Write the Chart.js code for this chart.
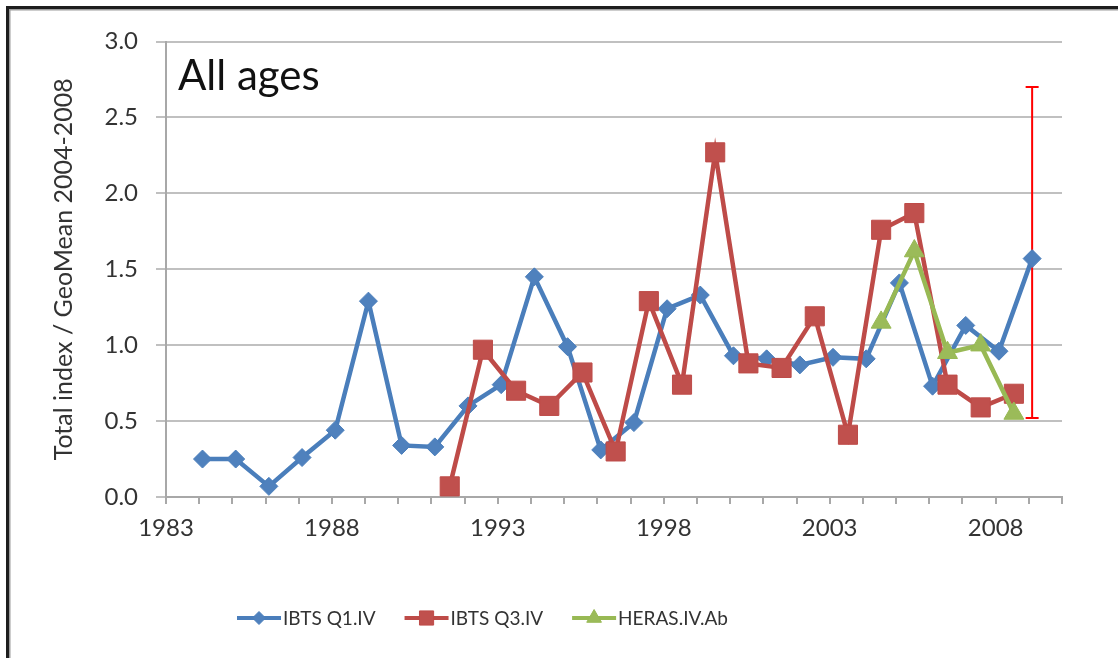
<!DOCTYPE html>
<html>
<head>
<meta charset="utf-8">
<script src="https://cdn.jsdelivr.net/npm/chart.js@4.4.0/dist/chart.umd.min.js"></script>
<style>
  html, body { margin: 0; padding: 0; background: #fff; overflow: hidden; }
  #wrap { position: relative; width: 1118px; height: 658px; }
  canvas { position: absolute; left: 0; top: 0; }
  #frame {
    position: absolute; left: 6px; top: 6px; width: 1200px; height: 700px;
    border-left: 3px solid #1e1e1e; border-top: 3px solid #1e1e1e;
    box-shadow: inset 1.5px 1.5px 0 #9c9c9c; pointer-events: none;
  }
</style>
</head>
<body>
<div id="wrap">
  <canvas id="chart" width="1118" height="658"></canvas>
  <div id="frame"></div>
</div>
<script>
// survey years and index values
const q1Years = [1984, 1985, 1986, 1987, 1988, 1989, 1990, 1991, 1992, 1993, 1994, 1995, 1996,
                 1997, 1998, 1999, 2000, 2001, 2002, 2003, 2004, 2005, 2006, 2007, 2008, 2009];
const q1Values = [0.25, 0.25, 0.07, 0.26, 0.44, 1.29, 0.34, 0.33, 0.60, 0.74, 1.45, 0.99, 0.31,
                  0.49, 1.24, 1.33, 0.93, 0.91, 0.87, 0.92, 0.91, 1.41, 0.73, 1.13, 0.96, 1.57];
const q3Years = [1991, 1992, 1993, 1994, 1995, 1996, 1997, 1998, 1999, 2000, 2001, 2002, 2003,
                 2004, 2005, 2006, 2007, 2008];
const q3Values = [0.07, 0.97, 0.70, 0.60, 0.82, 0.30, 1.29, 0.74, 2.27, 0.88, 0.85, 1.19, 0.41,
                  1.76, 1.87, 0.74, 0.59, 0.68];
const herasYears = [2004, 2005, 2006, 2007, 2008];
const herasValues = [1.15, 1.62, 0.95, 1.00, 0.55];

// timing of the survey inside the year (Q1 ~ Feb, Q3 / HERAS ~ Jul)
const q1Offset = 0.1;
const q3Offset = 0.55;

// range bar at the last Q1 point
const rangeYear = 2009;
const rangeLow = 0.52;
const rangeHigh = 2.70;

const seriesNames = ['IBTS Q1.IV', 'IBTS Q3.IV', 'HERAS.IV.Ab'];
const xTickYears = [1983, 1984, 1985, 1986, 1987, 1988, 1989, 1990, 1991, 1992, 1993, 1994, 1995, 1996,
                    1997, 1998, 1999, 2000, 2001, 2002, 2003, 2004, 2005, 2006, 2007, 2008, 2009, 2010];
const xLabelYears = [1983, 1988, 1993, 1998, 2003, 2008];
const yTicks = [0, 0.5, 1.0, 1.5, 2.0, 2.5, 3.0];
const yTitle = 'Total index / GeoMean 2004-2008';
const panelTitle = 'All ages';

const textColor = '#333333';
const gridColor = '#c0c0c0';
const axisColor = '#a8a8a8';

function points(years, values, offset) {
    return years.map((yr, i) => ({ x: yr + offset, y: values[i] }));
}

// title inside the plot + Excel style legend (line with marker)
const legendMarks = [
    { style: 'rectRot', radius: 6.5 },
    { style: 'rect', radius: 10 },
    { style: 'triangle', radius: 8.5 }
];
const decorPlugin = {
    id: 'decor',
    afterDraw(chart) {
        const ctx = chart.ctx;
        ctx.save();
        ctx.fillStyle = '#111';
        ctx.font = '42px Lato';
        ctx.textBaseline = 'alphabetic';
        ctx.fillText(panelTitle, 178, 90);

        ctx.font = '19px Lato';
        ctx.textBaseline = 'middle';
        let x = 237;
        const y = 618;
        for (let i = 0; i < 3; i++) {
            const ds = chart.data.datasets[i];
            ctx.strokeStyle = ds.borderColor;
            ctx.lineWidth = 4;
            ctx.beginPath();
            ctx.moveTo(x, y);
            ctx.lineTo(x + 44, y);
            ctx.stroke();
            ctx.fillStyle = ds.pointBackgroundColor;
            ctx.strokeStyle = ds.pointBorderColor;
            ctx.lineWidth = 1;
            Chart.helpers.drawPoint(ctx, { pointStyle: legendMarks[i].style, radius: legendMarks[i].radius, rotation: 0, borderWidth: 1 }, x + 22, y);
            ctx.fillStyle = textColor;
            ctx.fillText(seriesNames[i], x + 46, y + 1);
            x += 46 + ctx.measureText(seriesNames[i]).width + 29;
        }
        ctx.restore();
    }
};

new Chart(document.getElementById('chart'), {
    type: 'line',
    data: {
        datasets: [
            {
                label: seriesNames[0],
                data: points(q1Years, q1Values, q1Offset),
                borderColor: '#4a7ebb',
                pointBackgroundColor: '#4f81bd',
                pointBorderColor: '#4a7ebb',
                pointStyle: 'rectRot',
                pointRadius: 9,
                pointBorderWidth: 1,
                borderWidth: 4.5,
                order: 3
            },
            {
                label: seriesNames[1],
                data: points(q3Years, q3Values, q3Offset),
                borderColor: '#be4b48',
                pointBackgroundColor: '#c0504d',
                pointBorderColor: '#be4b48',
                pointStyle: 'rect',
                pointRadius: 13.5,
                pointBorderWidth: 1,
                borderWidth: 4.5,
                order: 2
            },
            {
                label: seriesNames[2],
                data: points(herasYears, herasValues, q3Offset),
                borderColor: '#98b954',
                pointBackgroundColor: '#9bbb59',
                pointBorderColor: '#98b954',
                pointStyle: 'triangle',
                pointRadius: 11.5,
                pointBorderWidth: 1,
                borderWidth: 4.5,
                order: 1
            },
            {
                label: 'range',
                data: [{ x: rangeYear + q1Offset, y: rangeLow }, { x: rangeYear + q1Offset, y: rangeHigh }],
                borderColor: '#ff0000',
                pointBorderColor: '#ff0000',
                pointStyle: 'line',
                pointRadius: 6.5,
                pointBorderWidth: 2,
                borderWidth: 2,
                order: 4
            }
        ]
    },
    options: {
        responsive: false,
        animation: false,
        events: [],
        layout: { padding: { left: 0, right: 56, top: 41.5, bottom: 101 } },
        plugins: { legend: { display: false }, tooltip: { enabled: false } },
        scales: {
            x: {
                type: 'linear',
                min: 1983,
                max: 2010,
                afterBuildTicks: s => { s.ticks = xTickYears.map(v => ({ value: v })); },
                afterFit: s => { s.height = 60; },
                ticks: {
                    autoSkip: false,
                    maxRotation: 0,
                    padding: 10,
                    color: textColor,
                    font: { family: 'Lato', size: 24 },
                    callback: v => xLabelYears.includes(v) ? String(v) : ''
                },
                grid: { drawOnChartArea: false, color: axisColor, lineWidth: 2, tickLength: 7 },
                border: { color: axisColor, width: 2 }
            },
            y: {
                min: 0,
                max: 3,
                afterBuildTicks: s => { s.ticks = yTicks.map(v => ({ value: v })); },
                afterFit: s => { s.width = 166; },
                ticks: {
                    padding: 18,
                    color: textColor,
                    font: { family: 'Lato', size: 24 },
                    callback: v => v.toFixed(1)
                },
                grid: { color: gridColor, lineWidth: 2, tickLength: 10 },
                border: { color: axisColor, width: 2 },
                title: {
                    display: true,
                    text: yTitle,
                    color: textColor,
                    font: { family: 'Lato', size: 25 },
                    padding: { top: 49, bottom: 0 }
                }
            }
        }
    },
    plugins: [decorPlugin]
});
</script>
</body>
</html>
